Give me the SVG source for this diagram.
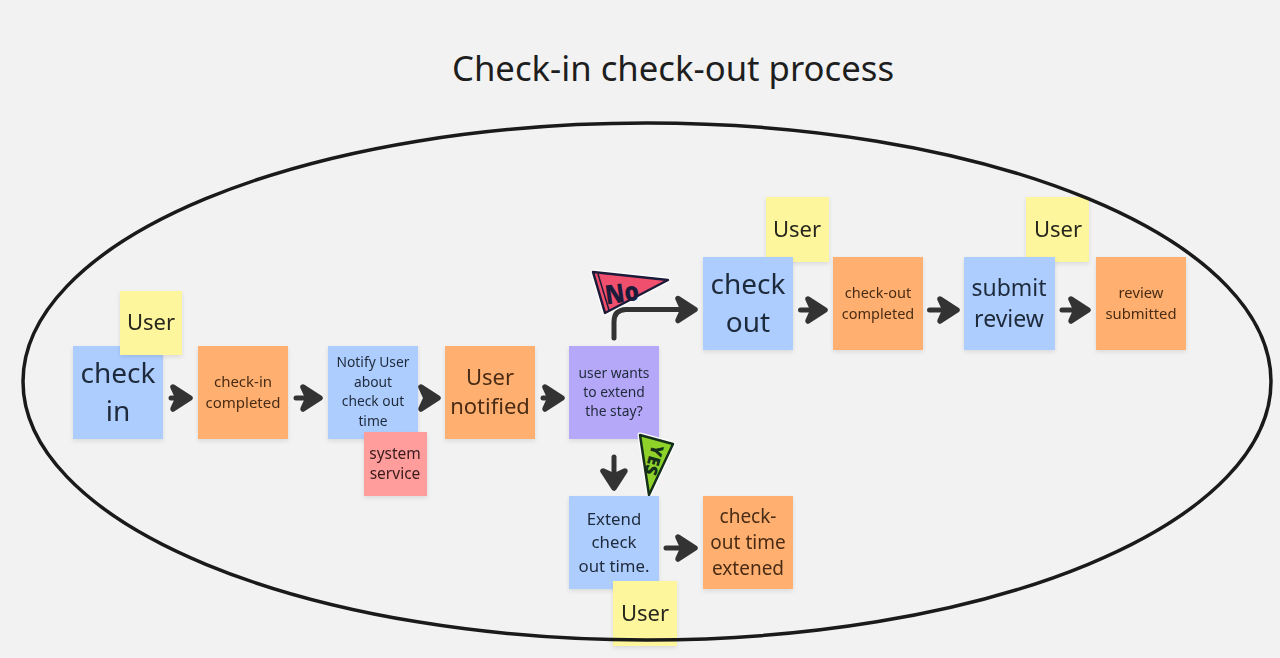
<svg xmlns="http://www.w3.org/2000/svg" width="1280" height="658" viewBox="0 0 1280 658">
<style>
text{font-family:"Noto Sans","Open Sans","DejaVu Sans",sans-serif;text-anchor:middle}
.b{fill:#adcdff}.o{fill:#ffb070}.y{fill:#fdf69c}.r{fill:#ff9d9d}.p{fill:#b5a8f8}
.n{filter:url(#sh)}
.t{fill:#1f2a3a}.d{fill:#4a2c14}.k{fill:#26261f}
.c{fill:none;stroke:#333;stroke-width:5;stroke-linecap:round;stroke-linejoin:round}
.h{fill:#333;stroke:#333;stroke-width:5.500;stroke-linejoin:round}
</style>
<defs>
<filter id="sh" x="-10%" y="-10%" width="120%" height="125%"><feDropShadow dx="0" dy="2" stdDeviation="2" flood-color="#000" flood-opacity="0.1"/></filter>
<path id="ah" d="M-20,-11 L-3,0 L-20,11 L-15,0 Z"/>
</defs>
<rect width="1280" height="658" fill="#f2f2f2"/>
<text x="673" y="81" font-size="34.700" fill="#1e1e1e">Check-in check-out process</text>
<g id="connectors">
<path class="c" d="M171,398H182"/><use href="#ah" class="h" x="193" y="398"/>
<path class="c" d="M296,398H312"/><use href="#ah" class="h" x="323" y="398"/>
<use href="#ah" class="h" x="441" y="398"/>
<path class="c" d="M543,398H554"/><use href="#ah" class="h" x="565" y="398"/>
<path class="c" d="M614,338V322Q614,309.500 626,309.500H685"/><use href="#ah" class="h" x="698" y="309.500"/>
<path class="c" d="M614,457V478"/><use href="#ah" class="h" transform="translate(614,491) rotate(90)"/>
<path class="c" d="M666,548H686"/><use href="#ah" class="h" x="698" y="548"/>
<path class="c" d="M800.500,310H815"/><use href="#ah" class="h" x="828" y="310"/>
<path class="c" d="M929.500,310H948"/><use href="#ah" class="h" x="960" y="310"/>
<path class="c" d="M1062,310H1080"/><use href="#ah" class="h" x="1091" y="310"/>
</g>
<g id="checkin" class="n"><rect class="b" x="73" y="346" width="90" height="93"/><text class="t" font-size="28" x="118" y="383">check</text><text class="t" font-size="28" x="118" y="421">in</text></g>
<g id="user1" class="n"><rect class="y" x="120" y="291" width="62" height="64"/><text class="k" font-size="22" x="151" y="330">User</text></g>
<g id="checkin-completed" class="n"><rect class="o" x="198" y="346" width="90" height="93"/><text class="d" font-size="15" x="243" y="387">check-in</text><text class="d" font-size="15" x="243" y="408">completed</text></g>
<g id="notify" class="n"><rect class="b" x="328" y="346" width="90" height="93"/><text class="t" font-size="13.800" x="373" y="367">Notify User</text><text class="t" font-size="13.800" x="373" y="387">about</text><text class="t" font-size="13.800" x="373" y="406">check out</text><text class="t" font-size="13.800" x="373" y="426">time</text></g>
<g id="system" class="n"><rect class="r" x="364" y="432" width="63" height="64"/><text font-size="15.500" fill="#3a1a1a" x="395" y="459">system</text><text font-size="15.500" fill="#3a1a1a" x="395" y="479">service</text></g>
<g id="user-notified" class="n"><rect class="o" x="445" y="346" width="90" height="93"/><text class="d" font-size="22" x="490" y="385">User</text><text class="d" font-size="22" x="490" y="414">notified</text></g>
<g id="decision" class="n"><rect class="p" x="569" y="346" width="90" height="93"/><text class="t" font-size="13.800" x="614" y="378">user wants</text><text class="t" font-size="13.800" x="614" y="397">to extend</text><text class="t" font-size="13.800" x="614" y="416">the stay?</text></g>
<g id="flag-no"><path d="M593,272L668,280L605,313Z" fill="#f0506e" stroke="#fff" stroke-width="5" stroke-linejoin="round"/><path d="M593,272L668,280L605,313Z" fill="#f0506e" stroke="#1c1c3a" stroke-width="2.500" stroke-linejoin="round"/><path d="M598,274L609,310" stroke="#1c1c3a" stroke-width="1.500" fill="none"/><text x="0" y="8" font-size="23" font-weight="900" fill="#1c1c3a" transform="translate(622,293) rotate(-8) scale(1,1.150)">No</text></g>
<g id="flag-yes"><path d="M640,435L673,444L649,495Z" fill="#8fd32a" stroke="#fff" stroke-width="5" stroke-linejoin="round"/><path d="M640,435L673,444L649,495Z" fill="#8fd32a" stroke="#15301a" stroke-width="2.500" stroke-linejoin="round"/><text x="0" y="6" font-size="17" font-weight="900" fill="#15301a" transform="translate(654,460) rotate(105)">YES</text></g>
<g id="extend" class="n"><rect class="b" x="569" y="496" width="90" height="93"/><text class="t" font-size="16.800" x="614" y="525">Extend</text><text class="t" font-size="16.800" x="614" y="548">check</text><text class="t" font-size="16.800" x="614" y="572">out time.</text></g>
<g id="extended" class="n"><rect class="o" x="703" y="496" width="90" height="93"/><text class="d" font-size="19" x="748" y="523">check-</text><text class="d" font-size="19" x="748" y="549">out time</text><text class="d" font-size="19" x="748" y="575">extened</text></g>
<g id="user4" class="n"><rect class="y" x="613" y="581" width="64" height="65"/><text class="k" font-size="22" x="645" y="621">User</text></g>
<g id="user2" class="n"><rect class="y" x="766" y="197" width="63" height="65"/><text class="k" font-size="22" x="797" y="237">User</text></g>
<g id="checkout" class="n"><rect class="b" x="703" y="257" width="90" height="93"/><text class="t" font-size="28" x="748" y="294">check</text><text class="t" font-size="28" x="748" y="332">out</text></g>
<g id="checkout-completed" class="n"><rect class="o" x="833" y="257" width="90" height="93"/><text class="d" font-size="14.500" x="878" y="298">check-out</text><text class="d" font-size="14.500" x="878" y="319">completed</text></g>
<g id="user3" class="n"><rect class="y" x="1026" y="197" width="63" height="65"/><text class="k" font-size="22" x="1058" y="237">User</text></g>
<g id="submit" class="n"><rect class="b" x="964" y="257" width="91" height="93"/><text class="t" font-size="23" x="1009" y="296">submit</text><text class="t" font-size="23" x="1009" y="327">review</text></g>
<g id="review-submitted" class="n"><rect class="o" x="1096" y="257" width="90" height="93"/><text class="d" font-size="14.800" x="1141" y="298">review</text><text class="d" font-size="14.800" x="1141" y="319">submitted</text></g>
<ellipse id="boundary" cx="647" cy="381.500" rx="624" ry="258.500" fill="none" stroke="#1a1a1a" stroke-width="3.500"/>
</svg>
